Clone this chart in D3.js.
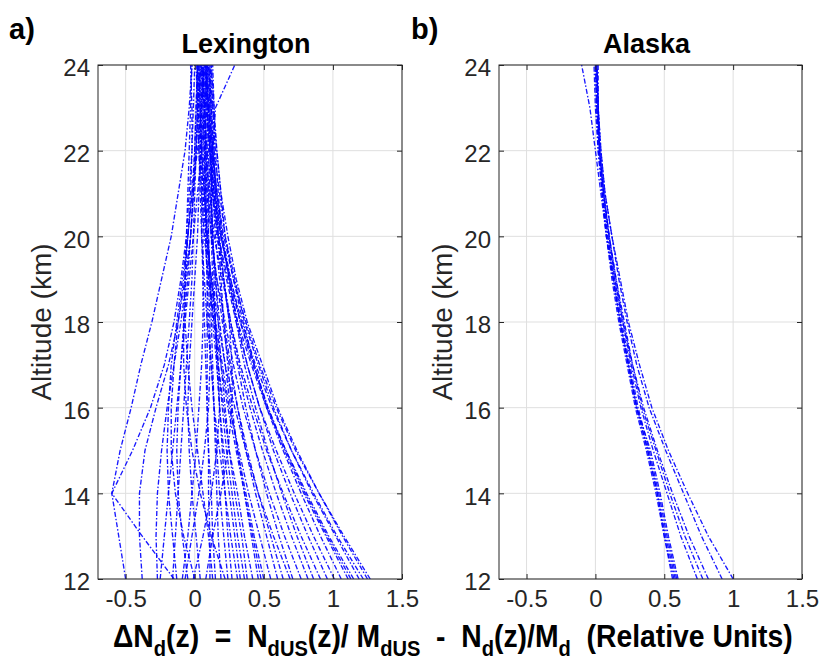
<!DOCTYPE html>
<html>
<head>
<meta charset="utf-8">
<script src="https://cdn.jsdelivr.net/npm/d3@7"></script>
<style>
  body { margin: 0; background: #fff; }
  svg { display: block; }
</style>
</head>
<body>
<div id="root"></div>
<script>
// ---------------------------- DATA ----------------------------
// Altitude levels (km) at which every profile is sampled
const altitudes = [12, 13, 14, 15, 16, 17, 18, 19, 20, 21, 22, 23, 24];

// Delta Nd profiles, Lexington (one array per sounding, values at each altitude)
const lexingtonProfiles = [
    [1.27, 1.08, 0.90, 0.73, 0.59, 0.47, 0.37, 0.28, 0.21, 0.16, 0.13, 0.10, 0.08],
    [1.25, 1.07, 0.90, 0.74, 0.60, 0.49, 0.38, 0.30, 0.24, 0.19, 0.16, 0.13, 0.11],
    [1.22, 1.03, 0.86, 0.70, 0.56, 0.44, 0.34, 0.26, 0.19, 0.14, 0.11, 0.08, 0.06],
    [1.19, 1.02, 0.85, 0.70, 0.57, 0.46, 0.36, 0.29, 0.22, 0.18, 0.14, 0.12, 0.10],
    [1.15, 0.97, 0.81, 0.66, 0.52, 0.41, 0.31, 0.24, 0.17, 0.13, 0.09, 0.07, 0.05],
    [1.13, 0.96, 0.80, 0.66, 0.53, 0.42, 0.33, 0.25, 0.19, 0.15, 0.12, 0.10, 0.08],
    [1.11, 0.95, 0.79, 0.65, 0.53, 0.43, 0.33, 0.26, 0.20, 0.16, 0.13, 0.11, 0.09],
    [1.06, 0.91, 0.77, 0.64, 0.52, 0.43, 0.35, 0.28, 0.22, 0.19, 0.16, 0.14, 0.12],
    [1.01, 0.86, 0.72, 0.59, 0.47, 0.38, 0.30, 0.23, 0.17, 0.14, 0.11, 0.09, 0.07],
    [0.96, 0.82, 0.69, 0.57, 0.47, 0.38, 0.31, 0.25, 0.19, 0.16, 0.13, 0.12, 0.10],
    [0.91, 0.77, 0.64, 0.52, 0.42, 0.33, 0.26, 0.20, 0.14, 0.11, 0.08, 0.07, 0.05],
    [0.86, 0.74, 0.63, 0.53, 0.44, 0.36, 0.30, 0.25, 0.20, 0.17, 0.15, 0.13, 0.12],
    [0.82, 0.70, 0.59, 0.49, 0.40, 0.32, 0.26, 0.21, 0.16, 0.13, 0.11, 0.09, 0.08],
    [0.77, 0.65, 0.54, 0.44, 0.35, 0.28, 0.22, 0.16, 0.12, 0.09, 0.07, 0.05, 0.04],
    [0.71, 0.61, 0.52, 0.44, 0.37, 0.31, 0.25, 0.21, 0.18, 0.15, 0.13, 0.12, 0.11],
    [0.69, 0.57, 0.46, 0.37, 0.29, 0.22, 0.17, 0.12, 0.08, 0.06, 0.04, 0.03, 0.02],
    [0.64, 0.55, 0.46, 0.38, 0.31, 0.25, 0.20, 0.16, 0.12, 0.10, 0.08, 0.07, 0.06],
    [0.60, 0.52, 0.44, 0.37, 0.31, 0.26, 0.21, 0.18, 0.15, 0.13, 0.11, 0.10, 0.09],
    [0.55, 0.47, 0.39, 0.32, 0.25, 0.20, 0.15, 0.12, 0.09, 0.07, 0.05, 0.04, 0.03],
    [0.50, 0.43, 0.37, 0.31, 0.26, 0.22, 0.18, 0.15, 0.13, 0.11, 0.10, 0.09, 0.08],
    [0.48, 0.42, 0.36, 0.30, 0.24, 0.19, 0.14, 0.10, 0.07, 0.05, 0.03, 0.02, 0.01],
    [0.46, 0.41, 0.36, 0.31, 0.27, 0.24, 0.21, 0.19, 0.17, 0.15, 0.14, 0.14, 0.13],
    [0.42, 0.36, 0.31, 0.25, 0.21, 0.17, 0.14, 0.11, 0.09, 0.08, 0.06, 0.06, 0.05],
    [0.38, 0.34, 0.29, 0.25, 0.22, 0.19, 0.17, 0.15, 0.13, 0.12, 0.11, 0.11, 0.10],
    [0.36, 0.31, 0.27, 0.23, 0.20, 0.17, 0.15, 0.13, 0.12, 0.12, 0.13, 0.15, 0.29],
    [0.33, 0.29, 0.25, 0.21, 0.18, 0.16, 0.13, 0.11, 0.10, 0.09, 0.08, 0.08, 0.07],
    [0.31, 0.26, 0.22, 0.18, 0.14, 0.12, 0.09, 0.07, 0.05, 0.04, 0.03, 0.03, 0.02],
    [0.27, 0.24, 0.22, 0.20, 0.18, 0.16, 0.15, 0.14, 0.13, 0.12, 0.12, 0.11, 0.11],
    [0.24, 0.21, 0.18, 0.16, 0.14, 0.12, 0.10, 0.09, 0.08, 0.07, 0.07, 0.06, 0.06],
    [0.22, 0.12, 0.04, -0.02, -0.06, -0.08, -0.08, -0.07, -0.05, -0.03, -0.02, -0.02, -0.03],
    [0.19, 0.17, 0.16, 0.15, 0.14, 0.13, 0.12, 0.11, 0.10, 0.10, 0.09, 0.09, 0.09],
    [0.15, 0.13, 0.12, 0.10, 0.09, 0.08, 0.07, 0.06, 0.05, 0.05, 0.04, 0.04, 0.04],
    [0.13, 0.10, 0.06, 0.02, -0.02, -0.05, -0.07, -0.07, -0.06, -0.05, -0.04, -0.03, -0.02],
    [0.11, 0.11, 0.10, 0.10, 0.09, 0.09, 0.09, 0.09, 0.08, 0.08, 0.08, 0.08, 0.08],
    [0.08, 0.13, 0.19, 0.24, 0.27, 0.27, 0.25, 0.21, 0.17, 0.14, 0.12, 0.10, 0.08],
    [0.04, 0.01, -0.02, -0.04, -0.05, -0.04, -0.02, 0.00, 0.02, 0.03, 0.04, 0.05, 0.06],
    [0.00, -0.08, -0.14, -0.17, -0.17, -0.15, -0.12, -0.08, -0.05, -0.02, 0.00, 0.01, 0.02],
    [-0.01, 0.06, 0.12, 0.16, 0.18, 0.17, 0.15, 0.12, 0.09, 0.07, 0.05, 0.04, 0.03],
    [-0.05, -0.09, -0.12, -0.13, -0.12, -0.10, -0.07, -0.04, -0.01, 0.02, 0.05, 0.07, 0.09],
    [-0.07, -0.02, 0.03, 0.07, 0.10, 0.11, 0.11, 0.10, 0.09, 0.08, 0.07, 0.07, 0.06],
    [-0.09, -0.05, -0.02, 0.01, 0.03, 0.05, 0.06, 0.06, 0.06, 0.06, 0.05, 0.05, 0.05],
    [-0.13, -0.16, -0.19, -0.20, -0.19, -0.17, -0.13, -0.09, -0.05, -0.02, 0.02, 0.05, 0.07],
    [-0.15, -0.38, -0.60, -0.45, -0.32, -0.22, -0.15, -0.10, -0.06, -0.04, -0.02, -0.01, 0.00],
    [-0.16, -0.14, -0.12, -0.10, -0.08, -0.06, -0.04, -0.02, -0.01, 0.00, 0.01, 0.02, 0.02],
    [-0.25, -0.22, -0.19, -0.16, -0.13, -0.10, -0.08, -0.05, -0.03, -0.01, 0.01, 0.03, 0.04],
    [-0.27, -0.28, -0.27, -0.24, -0.20, -0.15, -0.10, -0.06, -0.03, -0.01, 0.00, 0.01, 0.02],
    [-0.38, -0.40, -0.40, -0.36, -0.28, -0.19, -0.12, -0.07, -0.03, -0.01, 0.01, 0.02, 0.03],
    [-0.50, -0.55, -0.60, -0.54, -0.46, -0.39, -0.31, -0.24, -0.17, -0.12, -0.07, -0.04, -0.02]
];

// Delta Nd profiles, Alaska
const alaskaProfiles = [
    [0.56, 0.50, 0.45, 0.38, 0.30, 0.24, 0.18, 0.13, 0.08, 0.05, 0.02, 0.01, 0.00],
    [0.57, 0.50, 0.44, 0.37, 0.29, 0.23, 0.17, 0.12, 0.08, 0.05, 0.02, 0.00, -0.01],
    [0.58, 0.51, 0.45, 0.38, 0.30, 0.24, 0.18, 0.13, 0.08, 0.04, 0.00, -0.04, -0.10],
    [0.59, 0.52, 0.46, 0.39, 0.31, 0.25, 0.19, 0.14, 0.09, 0.05, 0.03, 0.01, 0.01],
    [0.60, 0.53, 0.47, 0.40, 0.30, 0.24, 0.18, 0.13, 0.09, 0.06, 0.03, 0.02, 0.01],
    [0.74, 0.62, 0.52, 0.42, 0.33, 0.26, 0.20, 0.14, 0.10, 0.06, 0.03, 0.02, 0.01],
    [0.78, 0.65, 0.54, 0.44, 0.34, 0.27, 0.20, 0.15, 0.10, 0.06, 0.03, 0.01, 0.00],
    [0.82, 0.68, 0.56, 0.45, 0.35, 0.27, 0.21, 0.15, 0.10, 0.06, 0.03, 0.02, 0.02],
    [0.92, 0.77, 0.64, 0.51, 0.39, 0.30, 0.23, 0.17, 0.12, 0.07, 0.04, 0.02, 0.01],
    [1.00, 0.82, 0.67, 0.53, 0.41, 0.32, 0.24, 0.18, 0.12, 0.07, 0.04, 0.02, 0.01]
];

// Axis ticks
const xTicks = [-0.5, 0, 0.5, 1, 1.5];
const yTicks = [12, 14, 16, 18, 20, 22, 24];
const xDomain = [-0.7, 1.5];
const yDomain = [12, 24];

// ---------------------------- LAYOUT ----------------------------
const width = 823;
const height = 666;
const plotTop = 65;
const plotBottom = 579;

const panels = [
    { tag: "a)", title: "Lexington", profiles: lexingtonProfiles, left: 98, right: 402, tagX: 9 },
    { tag: "b)", title: "Alaska", profiles: alaskaProfiles, left: 499, right: 802, tagX: 411 }
];

const svg = d3.select("#root")
    .append("svg")
    .attr("width", width)
    .attr("height", height)
    .style("font-family", "'Liberation Sans', Arial, sans-serif");

// ---------------------------- DRAW PANELS ----------------------------
panels.forEach((p, k) => {
    const x = d3.scaleLinear().domain(xDomain).range([p.left, p.right]);
    const y = d3.scaleLinear().domain(yDomain).range([plotBottom, plotTop]);
    const g = svg.append("g");

    // Clip so profiles stay inside the box
    svg.append("clipPath")
        .attr("id", "clip" + k)
        .append("rect")
        .attr("x", p.left)
        .attr("y", plotTop)
        .attr("width", p.right - p.left)
        .attr("height", plotBottom - plotTop);

    // Grid
    g.append("g").selectAll("line")
        .data(xTicks)
        .enter()
        .append("line")
        .attr("x1", d => x(d)).attr("x2", d => x(d))
        .attr("y1", plotTop).attr("y2", plotBottom)
        .attr("stroke", "#dfdfdf").attr("stroke-width", 1);
    g.append("g").selectAll("line")
        .data(yTicks)
        .enter()
        .append("line")
        .attr("x1", p.left).attr("x2", p.right)
        .attr("y1", d => y(d)).attr("y2", d => y(d))
        .attr("stroke", "#dfdfdf").attr("stroke-width", 1);

    // Profiles
    const line = d3.line()
        .x(d => x(d))
        .y((d, i) => y(altitudes[i]));
    g.append("g")
        .attr("clip-path", "url(#clip" + k + ")")
        .selectAll("path")
        .data(p.profiles)
        .enter()
        .append("path")
        .attr("d", line)
        .attr("fill", "none")
        .attr("stroke", "#0000ff")
        .attr("stroke-width", 1.35)
        .attr("stroke-opacity", 0.9)
        .attr("stroke-dasharray", "5,2,1.5,2");

    // Axes (ticks pointing inward, MATLAB style)
    const fmt = d => String(d);
    const xAxis = g.append("g")
        .attr("transform", "translate(0," + plotBottom + ")")
        .call(d3.axisBottom(x).tickValues(xTicks).tickSize(-5).tickPadding(11).tickFormat(fmt));
    g.append("g")
        .attr("transform", "translate(0," + plotTop + ")")
        .call(d3.axisTop(x).tickValues(xTicks).tickSize(-5).tickFormat(""));
    const yAxis = g.append("g")
        .attr("transform", "translate(" + p.left + ",0)")
        .call(d3.axisLeft(y).tickValues(yTicks).tickSize(-5).tickPadding(8).tickFormat(fmt));
    g.append("g")
        .attr("transform", "translate(" + p.right + ",0)")
        .call(d3.axisRight(y).tickValues(yTicks).tickSize(-5).tickFormat(""));
    g.selectAll(".domain").remove();
    g.selectAll(".tick line").attr("stroke", "#262626");
    g.selectAll(".tick text")
        .attr("fill", "#262626")
        .style("font-family", "'Liberation Sans', Arial, sans-serif")
        .style("font-size", "24px");
    xAxis.selectAll(".tick text").attr("dy", "0.71em");
    yAxis.selectAll(".tick text").attr("dy", "0.45em");

    // Box
    g.append("rect")
        .attr("x", p.left).attr("y", plotTop)
        .attr("width", p.right - p.left).attr("height", plotBottom - plotTop)
        .attr("fill", "none")
        .attr("stroke", "#262626")
        .attr("stroke-width", 1);

    // Title and panel tag
    g.append("text")
        .attr("x", (p.left + p.right) / 2 - 4)
        .attr("y", 53)
        .attr("text-anchor", "middle")
        .style("font-size", "27px")
        .style("font-weight", "bold")
        .text(p.title);
    g.append("text")
        .attr("x", p.tagX)
        .attr("y", 39)
        .style("font-size", "29px")
        .style("font-weight", "bold")
        .text(p.tag);

    // Y label
    g.append("text")
        .attr("transform", "translate(" + (p.left - 47) + "," + ((plotTop + plotBottom) / 2) + ") rotate(-90)")
        .attr("text-anchor", "middle")
        .attr("fill", "#262626")
        .style("font-size", "28px")
        .text("Altitude (km)");
});

// ---------------------------- X LABEL ----------------------------
const labelParts = [
    ["\u0394N", false], ["d", true], ["(z)  =  N", false], ["dUS", true],
    ["(z)/ M", false], ["dUS", true], ["  -  N", false], ["d", true],
    ["(z)/M", false], ["d", true], ["  (Relative Units)", false]
];
const xLabel = svg.append("text")
    .attr("x", 0)
    .attr("y", 647)
    .style("font-family", "'Liberation Sans Narrow', 'Liberation Sans', Arial, sans-serif")
    .style("font-weight", "bold")
    .style("font-size", "31px")
    .style("white-space", "pre");
let shifted = false;
labelParts.forEach(([t, sub]) => {
    const ts = xLabel.append("tspan").text(t);
    if (sub && !shifted) { ts.attr("dy", 9).style("font-size", "22px"); shifted = true; }
    else if (sub) { ts.style("font-size", "22px"); }
    else if (shifted) { ts.attr("dy", -9); shifted = false; }
});
// Squeeze label to span the same width as in the original figure
const bb = xLabel.node().getBBox();
const targetW = 680;
xLabel.attr("transform", "translate(453,0) scale(" + (targetW / bb.width) + ",1) translate(" + (-(bb.x + bb.width / 2)) + ",0)");
</script>
</body>
</html>
